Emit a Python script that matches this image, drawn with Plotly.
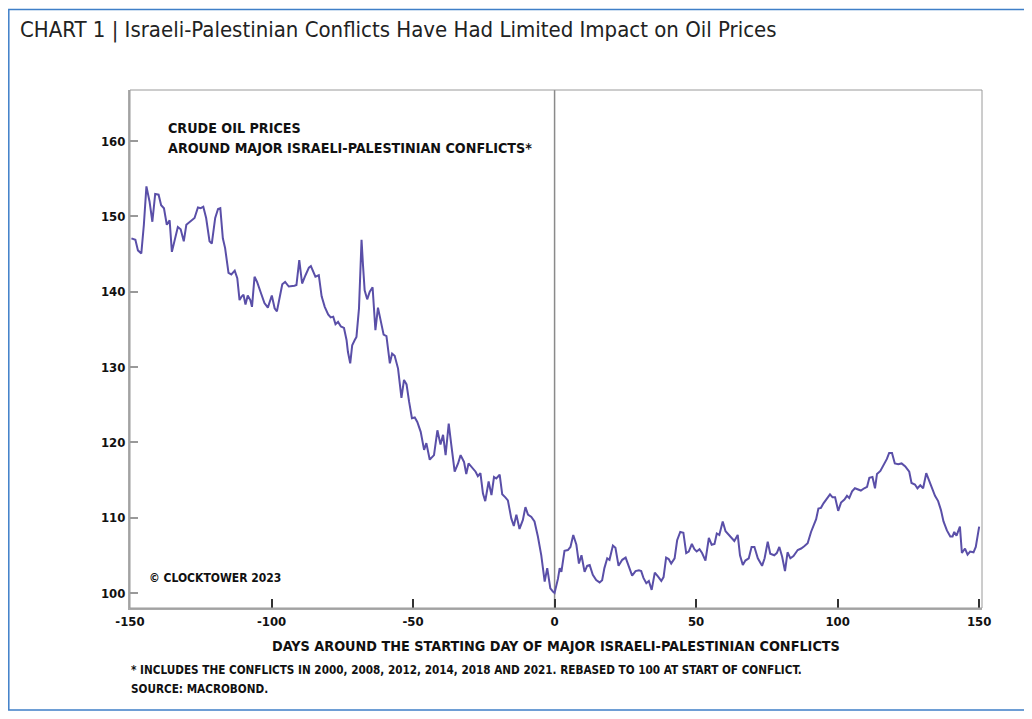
import plotly.graph_objects as go

# Days around conflict start (x) and rebased crude oil price index (y)
days = [
    -149.5, -148.1, -147.2, -146.0, -145.1, -144.2, -143.1, -142.1, -141.1, -139.9,
    -139.0, -138.0, -137.0, -136.0, -135.2, -134.2, -133.1, -132.1, -131.0, -130.1,
    -128.4, -127.2, -126.0, -125.0, -124.1, -123.1, -121.9, -121.1, -119.9, -118.9,
    -118.1, -117.2, -116.4, -115.2, -114.2, -113.0, -112.1, -111.3, -110.5, -109.9,
    -109.2, -108.4, -107.5, -106.9, -106.0, -105.1, -103.9, -102.5, -101.3, -100.3,
    -99.9, -98.9, -98.1, -97.2, -96.2, -95.2, -93.9, -91.9, -91.2, -90.2,
    -89.2, -88.0, -86.8, -86.1, -85.3, -84.5, -83.3, -82.3, -81.2, -80.0,
    -79.1, -78.2, -77.4, -76.5, -75.5, -74.4, -73.5, -73.0, -72.2, -71.5,
    -70.6, -70.0, -69.1, -68.2, -67.7, -67.1, -66.2, -65.3, -64.3, -63.3,
    -62.4, -61.4, -60.4, -59.4, -58.2, -57.4, -56.5, -55.3, -54.1, -53.2,
    -52.3, -51.4, -50.4, -49.4, -48.5, -47.3, -46.1, -45.3, -44.1, -42.6,
    -41.4, -40.3, -39.4, -38.5, -37.4, -36.5, -35.3, -34.1, -33.2, -32.0,
    -31.2, -30.4, -29.0, -27.9, -27.1, -26.2, -25.3, -24.5, -23.3, -22.3,
    -21.4, -20.6, -19.4, -18.5, -17.4, -16.5, -15.3, -14.4, -13.5, -12.4,
    -11.2, -10.3, -9.4, -8.2, -7.1, -5.9, -4.7, -3.5, -2.6, -1.5,
    -0.6, 0.0, 1.2, 1.8, 2.4, 3.5, 4.7, 5.6, 6.6, 7.7,
    8.6, 9.5, 10.6, 11.5, 12.4, 13.5, 14.7, 15.9, 16.8, 17.6,
    18.6, 19.4, 20.6, 21.5, 22.6, 23.9, 25.1, 26.2, 27.4, 28.6,
    29.8, 30.6, 31.4, 32.4, 33.3, 34.3, 35.4, 36.5, 37.7, 38.5,
    39.4, 40.3, 41.2, 42.4, 43.3, 44.4, 45.5, 46.5, 47.4, 48.5,
    49.4, 50.2, 51.2, 52.1, 53.3, 54.5, 55.5, 56.5, 57.3, 58.2,
    59.4, 60.4, 61.5, 62.7, 63.5, 64.7, 65.5, 66.5, 67.4, 68.6,
    69.6, 70.6, 71.8, 73.3, 74.2, 75.3, 76.2, 77.6, 78.5, 79.4,
    80.4, 81.4, 82.3, 83.3, 84.4, 85.9, 87.1, 88.2, 89.4, 90.6,
    91.5, 92.4, 93.2, 94.1, 95.0, 96.1, 97.3, 98.2, 99.1, 100.2,
    101.2, 102.4, 103.3, 104.1, 105.1, 106.1, 107.3, 108.2, 109.4, 110.4,
    111.2, 112.3, 113.2, 113.9, 115.1, 116.2, 117.4, 118.2, 119.2, 120.2,
    121.4, 122.6, 123.9, 125.3, 126.1, 127.3, 128.2, 129.2, 130.2, 131.3,
    132.4, 133.3, 134.4, 135.5, 136.5, 137.4, 138.6, 139.8, 140.6, 141.2,
    142.0, 143.2, 143.9, 145.0, 145.9, 146.8, 148.0, 148.8, 150.0,
]
prices = [
    147.1, 146.9, 145.5, 145.1, 148.9, 154.0, 152.0, 149.3, 153.0, 152.9,
    151.5, 151.1, 148.9, 149.5, 145.3, 147.1, 148.6, 148.3, 146.7, 148.9,
    149.5, 149.8, 151.2, 151.1, 151.3, 149.8, 146.7, 146.4, 149.8, 151.0,
    151.1, 147.1, 145.8, 142.5, 142.3, 142.8, 141.8, 138.9, 139.4, 139.6,
    138.3, 139.5, 138.9, 138.0, 142.0, 141.3, 140.0, 138.5, 137.9, 138.9,
    139.5, 137.8, 137.4, 139.1, 141.0, 141.3, 140.7, 140.8, 140.9, 144.2,
    141.1, 142.2, 143.2, 143.4, 142.7, 142.0, 142.2, 139.4, 138.0, 137.0,
    136.6, 136.7, 135.7, 136.0, 135.4, 135.2, 133.6, 132.0, 130.5, 132.9,
    133.6, 134.0, 137.8, 146.9, 143.6, 140.2, 139.0, 140.0, 140.6, 134.9,
    137.9, 136.3, 134.3, 134.1, 130.5, 131.8, 131.5, 129.8, 125.9, 128.3,
    127.7, 125.4, 123.2, 123.3, 122.7, 121.4, 119.0, 119.9, 117.7, 118.3,
    121.6, 119.7, 121.0, 118.3, 122.5, 119.7, 116.1, 117.2, 118.3, 117.4,
    115.8, 117.2, 116.6, 116.1, 115.5, 115.9, 113.2, 112.2, 114.8, 113.0,
    115.4, 115.2, 115.7, 113.1, 112.7, 112.3, 109.9, 108.9, 110.4, 108.5,
    109.7, 111.4, 110.4, 110.1, 109.5, 107.5, 105.0, 101.5, 103.3, 100.6,
    100.2, 100.0, 101.9, 103.3, 102.8, 105.6, 105.7, 106.1, 107.7, 106.4,
    103.9, 105.0, 102.8, 103.6, 103.7, 102.4, 101.7, 101.4, 101.7, 103.3,
    104.6, 104.4, 106.3, 106.0, 103.6, 104.4, 104.7, 103.6, 102.3, 102.9,
    103.0, 102.9, 102.0, 101.3, 101.6, 100.4, 102.7, 102.2, 101.6, 102.1,
    104.7, 104.5, 103.9, 104.6, 107.0, 108.1, 108.0, 105.3, 105.5, 106.5,
    105.8, 105.5, 105.8, 105.3, 104.3, 107.3, 106.4, 106.5, 107.9, 107.7,
    109.5, 108.2, 107.7, 107.2, 106.9, 107.7, 105.0, 103.7, 104.3, 104.6,
    106.1, 106.1, 104.6, 103.6, 104.6, 106.8, 105.2, 105.0, 105.3, 106.1,
    104.8, 102.9, 105.4, 104.6, 104.9, 105.7, 105.9, 106.2, 106.6, 108.1,
    109.0, 109.8, 111.2, 111.3, 111.9, 112.4, 113.1, 112.7, 112.7, 110.9,
    112.0, 112.4, 112.9, 112.6, 113.5, 113.9, 113.7, 113.6, 113.9, 114.1,
    115.3, 115.4, 113.9, 115.8, 116.2, 116.9, 117.8, 118.6, 118.6, 117.2,
    117.1, 117.2, 116.8, 116.1, 114.6, 114.4, 113.9, 114.3, 113.9, 115.9,
    114.8, 114.1, 112.9, 112.2, 111.0, 109.5, 108.3, 107.5, 107.5, 108.1,
    107.6, 108.8, 105.3, 105.9, 105.1, 105.5, 105.4, 106.1, 108.8,
]
x_ticks = [-150, -100, -50, 0, 50, 100, 150]
y_ticks = [100, 110, 120, 130, 140, 150, 160]

title_text = "CHART 1 | Israeli-Palestinian Conflicts Have Had Limited Impact on Oil Prices"
inner_1 = "CRUDE OIL PRICES"
inner_2 = "AROUND MAJOR ISRAELI-PALESTINIAN CONFLICTS*"
copyright_text = "© CLOCKTOWER 2023"
x_title = "DAYS AROUND THE STARTING DAY OF MAJOR ISRAELI-PALESTINIAN CONFLICTS"
note_1 = "* INCLUDES THE CONFLICTS IN 2000, 2008, 2012, 2014, 2018 AND 2021. REBASED TO 100 AT START OF CONFLICT."
note_2 = "SOURCE: MACROBOND."

FONT = "Liberation Sans Narrow, DejaVu Sans Condensed, Arial Narrow, sans-serif"
W, H = 1016, 703
ML, MR, MT, MB = 122, 42, 82, 103
PW, PH = W - ML - MR, H - MT - MB


def px(fx):
    return (fx - ML) / PW


def py(fy):
    return (H - MB - fy) / PH


fig = go.Figure()
fig.add_trace(go.Scatter(
    x=days, y=prices, mode="lines",
    line=dict(color="#5a4fa8", width=2),
    hoverinfo="skip", showlegend=False,
))

fig.update_layout(
    width=W, height=H, autosize=False,
    margin=dict(l=ML, r=MR, t=MT, b=MB, pad=0),
    paper_bgcolor="white", plot_bgcolor="white",
    font=dict(family=FONT, color="#111"),
    xaxis=dict(
        range=[-150, 151], tickvals=x_ticks, ticktext=[str(v) for v in x_ticks],
        showgrid=False, zeroline=False,
        showline=True, linecolor="#aaaaaa", linewidth=2,
        ticks="inside", ticklen=9, tickwidth=1.5, tickcolor="#333",
        tickfont=dict(family=FONT, size=13, color="#111", weight="bold"),
    ),
    yaxis=dict(
        range=[98, 166.8], tickvals=y_ticks, ticktext=[str(v) for v in y_ticks],
        showgrid=False, zeroline=False,
        showline=True, linecolor="#aaaaaa", linewidth=2,
        ticks="inside", ticklen=8, tickwidth=1.5, tickcolor="#999",
        tickfont=dict(family=FONT, size=13, color="#111", weight="bold"),
    ),
    shapes=[
        dict(type="rect", xref="paper", yref="paper", x0=0, x1=1, y0=0, y1=1,
             line=dict(color="#9a9a9a", width=1), layer="above"),
        dict(type="line", xref="x", yref="paper", x0=0, x1=0, y0=0, y1=1,
             line=dict(color="#8a8a8a", width=1.5), layer="below"),
        dict(type="rect", xref="paper", yref="paper",
             x0=px(0.8), x1=px(W + 40), y0=py(H - 1), y1=py(1.5),
             line=dict(color="#3f7fc8", width=1.5), layer="above"),
    ],
    annotations=[
        dict(text=title_text, xref="paper", yref="paper", x=px(10), y=py(22),
             xanchor="left", yanchor="middle", showarrow=False,
             font=dict(family=FONT, size=22, color="#222")),
        dict(text=inner_1, xref="paper", yref="paper", x=px(158), y=py(120),
             xanchor="left", yanchor="middle", showarrow=False,
             font=dict(family=FONT, size=14.2, color="#111", weight="bold")),
        dict(text=inner_2, xref="paper", yref="paper", x=px(158), y=py(140),
             xanchor="left", yanchor="middle", showarrow=False,
             font=dict(family=FONT, size=14.2, color="#111", weight="bold")),
        dict(text=copyright_text, xref="paper", yref="paper", x=px(139), y=py(570),
             xanchor="left", yanchor="middle", showarrow=False,
             font=dict(family=FONT, size=12, color="#111", weight="bold")),
        dict(text=x_title, xref="paper", yref="paper", x=0.5, y=py(638),
             xanchor="center", yanchor="middle", showarrow=False,
             font=dict(family=FONT, size=14.3, color="#111", weight="bold")),
        dict(text=note_1, xref="paper", yref="paper", x=px(121), y=py(662),
             xanchor="left", yanchor="middle", showarrow=False,
             font=dict(family=FONT, size=11.65, color="#111", weight="bold")),
        dict(text=note_2, xref="paper", yref="paper", x=px(121), y=py(681),
             xanchor="left", yanchor="middle", showarrow=False,
             font=dict(family=FONT, size=11.65, color="#111", weight="bold")),
    ],
)

fig.write_html("out.html")
